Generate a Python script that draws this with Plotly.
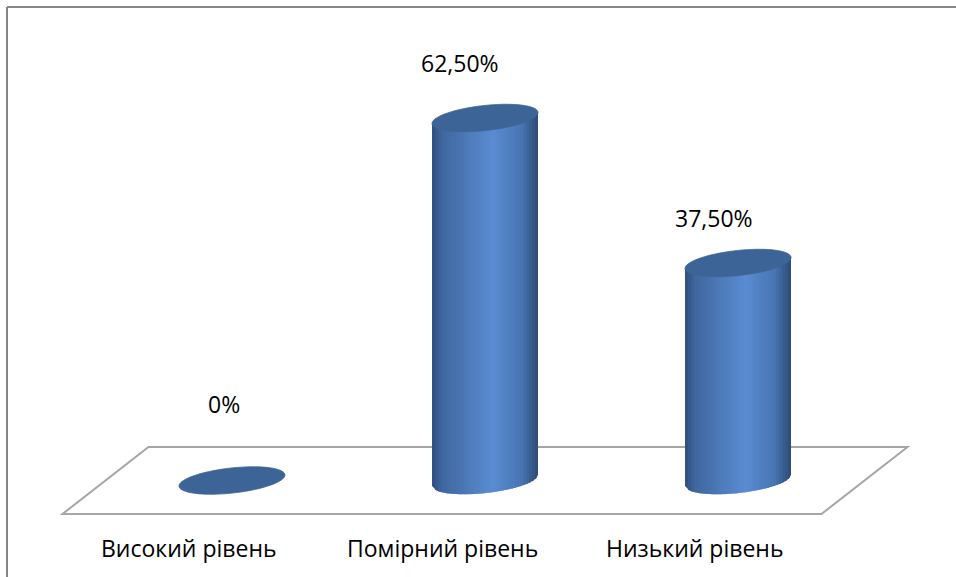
import numpy as np
import plotly.graph_objects as go

# ---- data ----
categories = ["Високий рівень", "Помірний рівень", "Низький рівень"]
values = [0.0, 62.5, 37.5]

def fmt(v):
    return "0%" if v == 0 else f"{v:.2f}%".replace(".", ",")

value_labels = [fmt(v) for v in values]

# ---- styling / geometry (pixel based) ----
W, H = 956, 577
PX_PER_CAT = 253.0
PX_PER_UNIT = 5.8
X0_PX = 232.0
Y0_PX = 480.5

x0 = -X0_PX / PX_PER_CAT
x1 = x0 + W / PX_PER_CAT
y1 = Y0_PX / PX_PER_UNIT
y0 = y1 - H / PX_PER_UNIT

A = 53.0 / PX_PER_CAT          # cylinder half width (x units)
B = 12.6 / PX_PER_UNIT         # ellipse half height (y units)
S = 5.5 / PX_PER_UNIT          # ellipse shear (y units)
FLOOR_HALF = 33.5 / PX_PER_UNIT
FLOOR_SHEAR = 43.0 / PX_PER_CAT

label_xshift = [-8, -25, -24]
label_yshift = [77, 55, 45]

top_color = "rgb(61,100,150)"

def body_color(u):
    # u in [-1, 1] across cylinder
    stops = [(-1.0, (46, 78, 124)), (-0.8, (64, 104, 160)), (0.15, (90, 140, 210)),
             (0.7, (72, 116, 178)), (1.0, (44, 74, 116))]
    for (p0, c0), (p1, c1) in zip(stops[:-1], stops[1:]):
        if p0 <= u <= p1:
            f = (u - p0) / (p1 - p0)
            c = [round(a + (b - a) * f) for a, b in zip(c0, c1)]
            return f"rgb({c[0]},{c[1]},{c[2]})"
    return "rgb(46,78,124)"

shapes = []

# floor parallelogram
n = len(categories)
fl = -0.5
fr = n - 0.5
floor_path = (f"M {fl + FLOOR_SHEAR},{FLOOR_HALF} L {fr + FLOOR_SHEAR},{FLOOR_HALF} "
              f"L {fr - FLOOR_SHEAR},{-FLOOR_HALF} L {fl - FLOOR_SHEAR},{-FLOOR_HALF} Z")
shapes.append(dict(type="path", xref="x", yref="y", path=floor_path,
                   line=dict(color="rgb(166,166,166)", width=2), fillcolor="rgba(0,0,0,0)",
                   layer="below"))

def ellipse_path(cx, cy, npts=72):
    t = np.linspace(0, 2 * np.pi, npts, endpoint=False)
    xs = cx + A * np.cos(t)
    ys = cy + B * np.sin(t) + S * np.cos(t)
    pts = " L ".join(f"{x:.5f},{y:.5f}" for x, y in zip(xs, ys))
    return "M " + pts + " Z"

NSTRIP = 36
for i, v in enumerate(values):
    if v > 0:
        us = np.linspace(-1, 1, NSTRIP + 1)
        for k in range(NSTRIP):
            ua = us[k]
            ub = min(1.0, us[k + 1] + (us[1] - us[0]) * 0.6) if k < NSTRIP - 1 else us[k + 1]
            xa, xb = i + A * ua, i + A * ub
            ta, tb = v + S * ua, v + S * ub
            ba = S * ua - B * np.sqrt(max(0.0, 1 - ua * ua))
            bb = S * ub - B * np.sqrt(max(0.0, 1 - ub * ub))
            col = body_color((us[k] + us[k + 1]) / 2)
            p = f"M {xa:.5f},{ta:.5f} L {xb:.5f},{tb:.5f} L {xb:.5f},{bb:.5f} L {xa:.5f},{ba:.5f} Z"
            shapes.append(dict(type="path", xref="x", yref="y", path=p,
                               fillcolor=col, line=dict(width=0)))
    shapes.append(dict(type="path", xref="x", yref="y", path=ellipse_path(i, v),
                       fillcolor=top_color, line=dict(color=top_color, width=0.8)))

# chart border (top and left edges visible)
shapes.append(dict(type="line", xref="paper", yref="paper", x0=7 / W, x1=1, y0=1 - 7 / H, y1=1 - 7 / H,
                   line=dict(color="rgb(134,134,134)", width=2)))
shapes.append(dict(type="line", xref="paper", yref="paper", x0=7 / W, x1=7 / W, y0=0, y1=1 - 7 / H,
                   line=dict(color="rgb(134,134,134)", width=2)))

annotations = []
FONT = dict(family="'Open Sans', 'Noto Sans', sans-serif", size=23, color="black")
for i, (v, lab) in enumerate(zip(values, value_labels)):
    annotations.append(dict(x=i, y=v, xref="x", yref="y", text=lab, showarrow=False,
                            xshift=label_xshift[i], yshift=label_yshift[i], font=FONT))
for i, c in enumerate(categories):
    annotations.append(dict(x=i - FLOOR_SHEAR, y=-FLOOR_HALF, xref="x", yref="y", text=c,
                            showarrow=False, yshift=-34, font=FONT))

fig = go.Figure()
fig.add_trace(go.Scatter(x=[], y=[]))
fig.update_layout(
    width=W, height=H,
    margin=dict(l=0, r=0, t=0, b=0),
    paper_bgcolor="white", plot_bgcolor="white",
    xaxis=dict(range=[x0, x1], visible=False, fixedrange=True),
    yaxis=dict(range=[y0, y1], visible=False, fixedrange=True),
    shapes=shapes, annotations=annotations, showlegend=False,
)
fig.write_html("out.html")
